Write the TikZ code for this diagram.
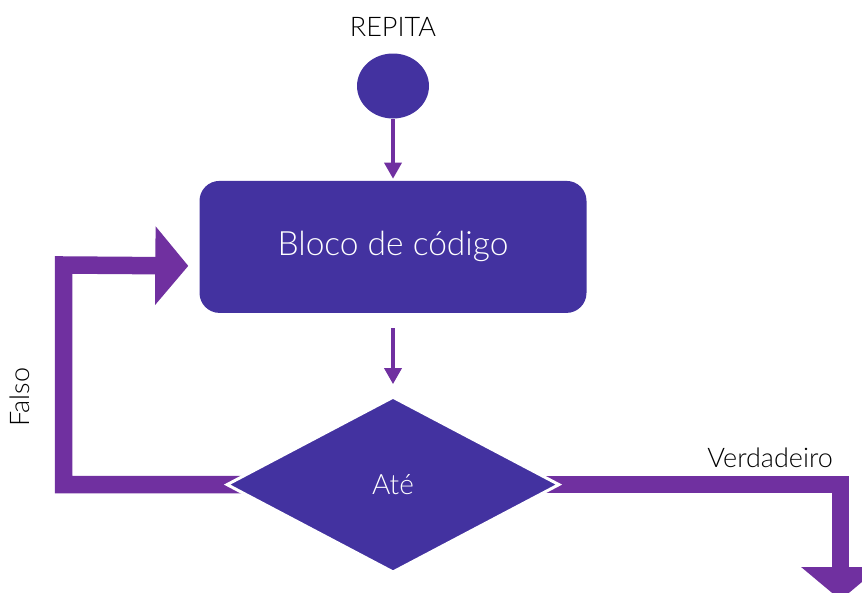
\documentclass[tikz,border=0pt]{standalone}
\usepackage{fontspec}
\IfFontExistsTF{Lato Light}{\setmainfont{Lato Light}}{\setmainfont{Lato}}
\usetikzlibrary{arrows.meta,shapes.geometric,positioning,backgrounds}
\definecolor{roxo}{HTML}{4332A0}
\definecolor{seta}{HTML}{7030A0}
\tikzset{
  basic/.style   = {fill=roxo, text=white, inner sep=0pt},
  inicio/.style  = {basic, ellipse, minimum width=72pt, minimum height=65pt},
  bloco/.style   = {basic, rectangle, rounded corners=20pt, minimum width=387pt,
                    minimum height=132pt, font=\fontsize{33.5}{40}\selectfont},
  decisao/.style = {basic, diamond, draw=white, line width=3pt, minimum width=333pt,
                    minimum height=176pt, font=\fontsize{28}{34}\selectfont},
  rotulo/.style  = {inner sep=0pt, text=black, font=\fontsize{27}{32}\selectfont},
  fina/.style    = {draw=seta, line width=3.5pt, -{Triangle[width=17pt,length=16pt]}},
  grossa/.style  = {draw=seta, line width=17.5pt, -{Triangle[width=77pt,length=33pt]}}
}

\begin{document}
\begin{tikzpicture}[x=1pt, y=-1pt]
\useasboundingbox (0,0) rectangle (862,592);

% inicio do laco
\node[inicio] (ini) at (393,86) {};
\node[rotulo] (rep) at (393,27) {REPITA};

% bloco e decisao, posicionados em relacao ao inicio
\node[bloco, below=62pt of ini] (blc) {Bloco de código};
\node[decisao, below=82pt of blc] (ate) {Até};

\foreach \de/\para/\s/\e in {ini/blc/0/2, blc/ate/15/11}
  \draw[fina, shorten <=\s pt, shorten >=\e pt] (\de) -- (\para);

% setas grossas (por baixo do losango)
\coordinate (canto) at (63.5,265);
\coordinate (entrada) at ([xshift=-11pt, yshift=-19pt]blc.west);
\coordinate (saida) at (840.5,600);
\begin{scope}[on background layer]
  \draw[grossa] (ate.center) -| (canto) -- (entrada);
  \draw[grossa] (ate.center) -| (saida);
\end{scope}

\node[rotulo, rotate=90] (falso) at (20,397) {Falso};
\node[rotulo, anchor=east] (verd) at (833,458) {Verdadeiro};
\end{tikzpicture}
\end{document}
